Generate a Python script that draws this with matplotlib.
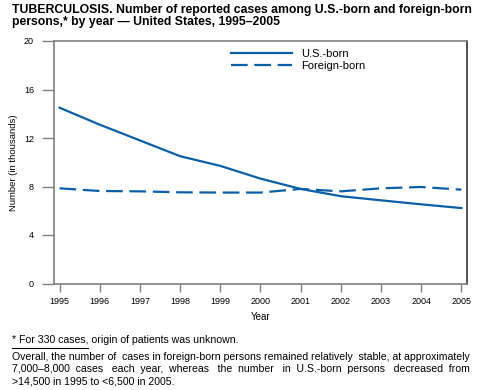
import numpy as np
from matplotlib import pyplot as plt

years = [1995, 1996, 1997, 1998, 1999, 2000, 2001, 2002, 2003, 2004, 2005]
us_born = [14.5, 13.1, 11.8, 10.5, 9.7, 8.65, 7.8, 7.2, 6.86, 6.53, 6.22]
foreign_born = [7.85, 7.63, 7.6, 7.52, 7.5, 7.5, 7.8, 7.6, 7.85, 7.96, 7.74]
y_ticks = [0, 4, 8, 12, 16, 20]

title = ('TUBERCULOSIS. Number of reported cases among U.S.-born and foreign-born\n'
         'persons,* by year \u2014 United States, 1995\u20132005')
footnote = '* For 330 cases, origin of patients was unknown.'
summary = ['Overall, the number of cases in foreign-born persons remained relatively stable, at approximately',
           '7,000\u20138,000 cases each year, whereas the number in U.S.-born persons decreased from',
           '>14,500 in 1995 to <6,500 in 2005.']

plt.rcParams['font.family'] = ['Liberation Sans', 'DejaVu Sans']
blue = '#0b5fa8'
grey = '#808080'
fs_note = 7.6

fig = plt.figure(figsize=(4.81, 3.90), dpi=100)
ax = fig.add_axes([53.5 / 481, 1 - 283.5 / 390, (467 - 53.5) / 481, (283.5 - 41) / 390])

ax.plot(years, us_born, color=blue, lw=1.6, label='U.S.-born')
ax.plot(years, foreign_born, color=blue, lw=1.6, ls=(0, (7.5, 3)), label='Foreign-born')

ax.set_xlim(1994.85, 2005.14)
ax.set_ylim(0, 20)
ax.set_xticks(years)
ax.set_yticks(y_ticks)
ax.tick_params(axis='x', length=6, width=1, color=grey, labelsize=6.5, pad=4)
ax.tick_params(axis='y', length=9, width=1, color=grey, labelsize=6.5, pad=5)
for s in ['left', 'bottom', 'top']:
    ax.spines[s].set_color(grey)
    ax.spines[s].set_linewidth(1.2)
ax.spines['right'].set_color('#333333')
ax.spines['right'].set_linewidth(1.2)
ax.set_xlabel('Year', fontsize=7, labelpad=4)
ax.set_ylabel('Number (in thousands)', fontsize=6.8, labelpad=4)

ax.legend(loc='upper left', bbox_to_anchor=(0.41, 1.0), frameon=False, fontsize=8,
          handlelength=5.5, handletextpad=0.8, labelspacing=0.2, borderaxespad=0.3)

fig.text(12 / 481, 1 - 4 / 390, title, fontsize=8.85, fontweight='bold', va='top', ha='left',
         linespacing=1.05)
fig.text(12 / 481, 1 - 343 / 390, footnote, fontsize=fs_note, va='baseline', ha='left')
fig.add_artist(plt.Line2D([12 / 481, 88 / 481], [1 - 348 / 390, 1 - 348 / 390], color='black', lw=0.8))


def text_width(s, renderer):
    t = fig.text(0, 0, s, fontsize=fs_note)
    w = t.get_window_extent(renderer).width
    t.remove()
    return w


# justified paragraph: pad spaces so the first two lines fill the width
renderer = fig.canvas.get_renderer()
left_px, right_px = 12, 470
space_w = text_width('a  b', renderer) - text_width('a b', renderer)
for i, line in enumerate(summary):
    y = 1 - (360 + 12.5 * i) / 390
    if i < len(summary) - 1:
        words = line.split(' ')
        extra = (right_px - left_px - text_width(line, renderer)) / space_w
        k = max(0, int(round(extra)))
        n_gaps = len(words) - 1
        pads = [0] * n_gaps
        for j in range(k):
            pads[int((j + 0.5) * n_gaps / k) % n_gaps] += 1
        line = words[0] + ''.join(' ' * (1 + p) + w for p, w in zip(pads, words[1:]))
    fig.text(left_px / 481, y, line, fontsize=fs_note, va='baseline', ha='left')

fig.savefig('out.png', dpi=100)
